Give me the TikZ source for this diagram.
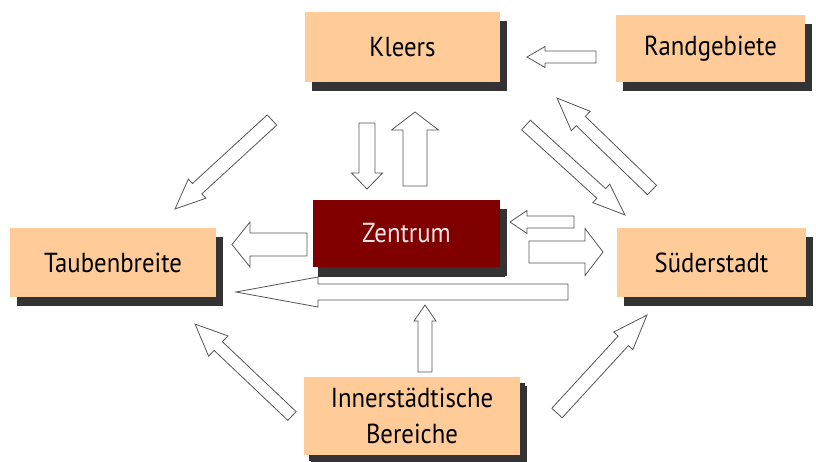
\documentclass[tikz,border=0pt]{standalone}
\usepackage{fontspec}
\setmainfont{PT Sans}[FakeStretch=0.9]
\usetikzlibrary{calc,shadows}
\definecolor{peach}{HTML}{FFCC99}
\definecolor{zred}{HTML}{800000}
\definecolor{shadowc}{HTML}{333333}
\definecolor{arrline}{HTML}{555555}
\definecolor{ztext}{HTML}{F4E8E8}
\newcommand\blockarrow[5]{%
  \path let \p1=($(#2)-(#1)$) in \pgfextra{%
    \pgfmathsetmacro\baAng{atan2(\y1,\x1)}%
    \pgfmathsetmacro\baLen{veclen(\x1,\y1)}%
    \global\let\baAngG\baAng \global\let\baLenG\baLen};
  \draw[blockarr, shift={(#1)}, rotate=\baAngG]
    (0,#3) -- (\baLenG-#5,#3) -- (\baLenG-#5,#4) -- (\baLenG,0)
    -- (\baLenG-#5,-#4) -- (\baLenG-#5,-#3) -- (0,-#3) -- cycle;
}
\tikzset{
  box/.style={fill=peach, inner sep=0pt, align=center, text=black,
    font=\fontsize{27.5}{36}\selectfont,
    drop shadow={shadow xshift=7pt, shadow yshift=-9pt, fill=shadowc, opacity=1}},
  zbox/.style={box, fill=zred, text=ztext},
  blockarr/.style={draw=arrline, fill=white, line width=0.8pt, line join=miter}
}
\begin{document}
\begin{tikzpicture}[x=1pt,y=-1pt]
\useasboundingbox[fill=white] (0,0) rectangle (816,461);
% boxes
\node[box, minimum width=195pt, minimum height=70pt] (kleers) at (402.5,47) {Kleers};
\node[box, minimum width=189pt, minimum height=67pt] (rand) at (710.5,48.5) {Randgebiete};
\node[box, minimum width=206pt, minimum height=69pt] (taub) at (113,262.5) {Taubenbreite};
\node[box, minimum width=189pt, minimum height=69pt] (sued) at (711.5,262.5) {Süderstadt};
\node[box, minimum width=216pt, minimum height=78pt,
  drop shadow={shadow xshift=5pt, shadow yshift=-6pt, fill=shadowc, opacity=1}] (inner) at (412,416) {Innerstädtische\\Bereiche};
\node[zbox, minimum width=187pt, minimum height=67pt,
  drop shadow={shadow xshift=5pt, shadow yshift=-10pt, fill=shadowc, opacity=1}] (zentrum) at (406.5,233.5) {Zentrum};
% arrow end points
\coordinate (a1s) at (272,120);  \coordinate (a1e) at (175,209);
\coordinate (a2s) at (367,123);  \coordinate (a2e) at (367,189);
\coordinate (a3s) at (415,186);  \coordinate (a3e) at (415,112);
\coordinate (a4s) at (596,57);   \coordinate (a4e) at (527,57);
\coordinate (a5s) at (652,190);  \coordinate (a5e) at (557,98);
\coordinate (a6s) at (526,125);  \coordinate (a6e) at (625,215);
\coordinate (a7s) at (574,222);  \coordinate (a7e) at (510,222);
\coordinate (a8s) at (529,252);  \coordinate (a8e) at (603,252);
\coordinate (a9s) at (307,244.5);\coordinate (a9e) at (232,244.5);
\coordinate (a10s) at (568,292); \coordinate (a10e) at (236,292);
\coordinate (a11s) at (425,372); \coordinate (a11e) at (425,305);
\coordinate (a12s) at (292,416); \coordinate (a12e) at (195,324);
\coordinate (a13s) at (557,413); \coordinate (a13e) at (647,315);
% arrows
\blockarrow{a1s}{a1e}{7}{13}{30}
\blockarrow{a2s}{a2e}{8}{15.5}{16}
\blockarrow{a3s}{a3e}{12}{23.5}{18}
\blockarrow{a4s}{a4e}{6}{10.5}{18}
\blockarrow{a5s}{a5e}{6.5}{13.5}{33}
\blockarrow{a6s}{a6e}{6.5}{12.5}{32}
\blockarrow{a7s}{a7e}{6}{11.5}{17}
\blockarrow{a8s}{a8e}{11}{23.5}{18}
\blockarrow{a9s}{a9e}{11.5}{22.5}{18}
\blockarrow{a10s}{a10e}{8}{15}{82}
\blockarrow{a11s}{a11e}{7}{11}{16}
\blockarrow{a12s}{a12e}{6}{14}{32}
\blockarrow{a13s}{a13e}{7}{13}{35}
\end{tikzpicture}
\end{document}
